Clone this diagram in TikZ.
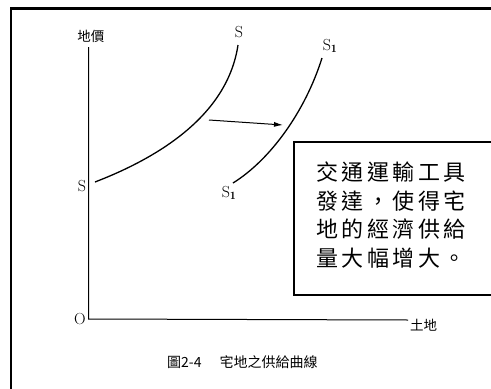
\documentclass[tikz,border=0pt]{standalone}
\usepackage{fontspec}
\newfontfamily\cjk{Noto Sans CJK TC}
\newfontfamily\boxfont[LetterSpace=16]{Noto Sans CJK TC}
\usetikzlibrary{arrows.meta}
\tikzset{
  curve/.style={line width=1.3pt},
  axis/.style={line width=1pt},
  lbl/.style={font=\fontsize{16}{16}\selectfont, inner sep=0pt},
  axlbl/.style={inner sep=0pt, font=\cjk\fontsize{13.5}{13.5}\selectfont},
  frame/.style={line width=2.5pt},
}
\begin{document}
\begin{tikzpicture}[x=1pt,y=-1pt]
\useasboundingbox (0,0) rectangle (491,389);
\fill[white] (0,0) rectangle (491,389);
% frame (top and left edges)
\draw[frame] (11,389) -- (11,8.5) -- (491,8.5);
% axes
\coordinate (ytop) at (88.5,47);
\coordinate (o) at (88.5,319);
\coordinate (xend) at (408,320);
\draw[axis] (ytop) -- (o) -- (xend);
\node[lbl] (olbl) at (80,319) {O};
\node[axlbl] (ylbl) at (91,36) {地價};
\node[axlbl, anchor=west] (xlbl) at (410,325) {土地};
% curve S
\node[lbl] (s0) at (82,186) {S};
\node[lbl] (s1) at (239,32) {S};
\draw[curve] (95,182) .. controls (165,155) and (228,112) .. (238,45);
% curve S1
\node[lbl] (t0) at (229,193) {S$_{\mathbf 1}$};
\node[lbl] (t1) at (330,46) {S$_{\mathbf 1}$};
\draw[curve] (233,183) .. controls (270,160) and (305,112) .. (322,58);
% shift arrow
\coordinate (a0) at (209,120);
\coordinate (a1) at (283,125);
\draw[line width=1pt, -{Latex[length=9pt,width=5pt]}] (a0) -- (a1);
% text box
\draw[line width=1.2pt, fill=white] (294,142) rectangle (492,295);
\node[anchor=north west, inner sep=0pt, align=left, font=\boxfont\fontsize{22}{28.5}\selectfont] (box) at (316,162)
 {交通運輸工具\\發達，使得宅\\地的經濟供給\\量大幅增大。};
% caption
\node[anchor=west, inner sep=0pt, font=\cjk\fontsize{14}{14}\selectfont] (cap) at (167,362) {圖2-4\hspace{18pt}宅地之供給曲線};
\end{tikzpicture}
\end{document}
